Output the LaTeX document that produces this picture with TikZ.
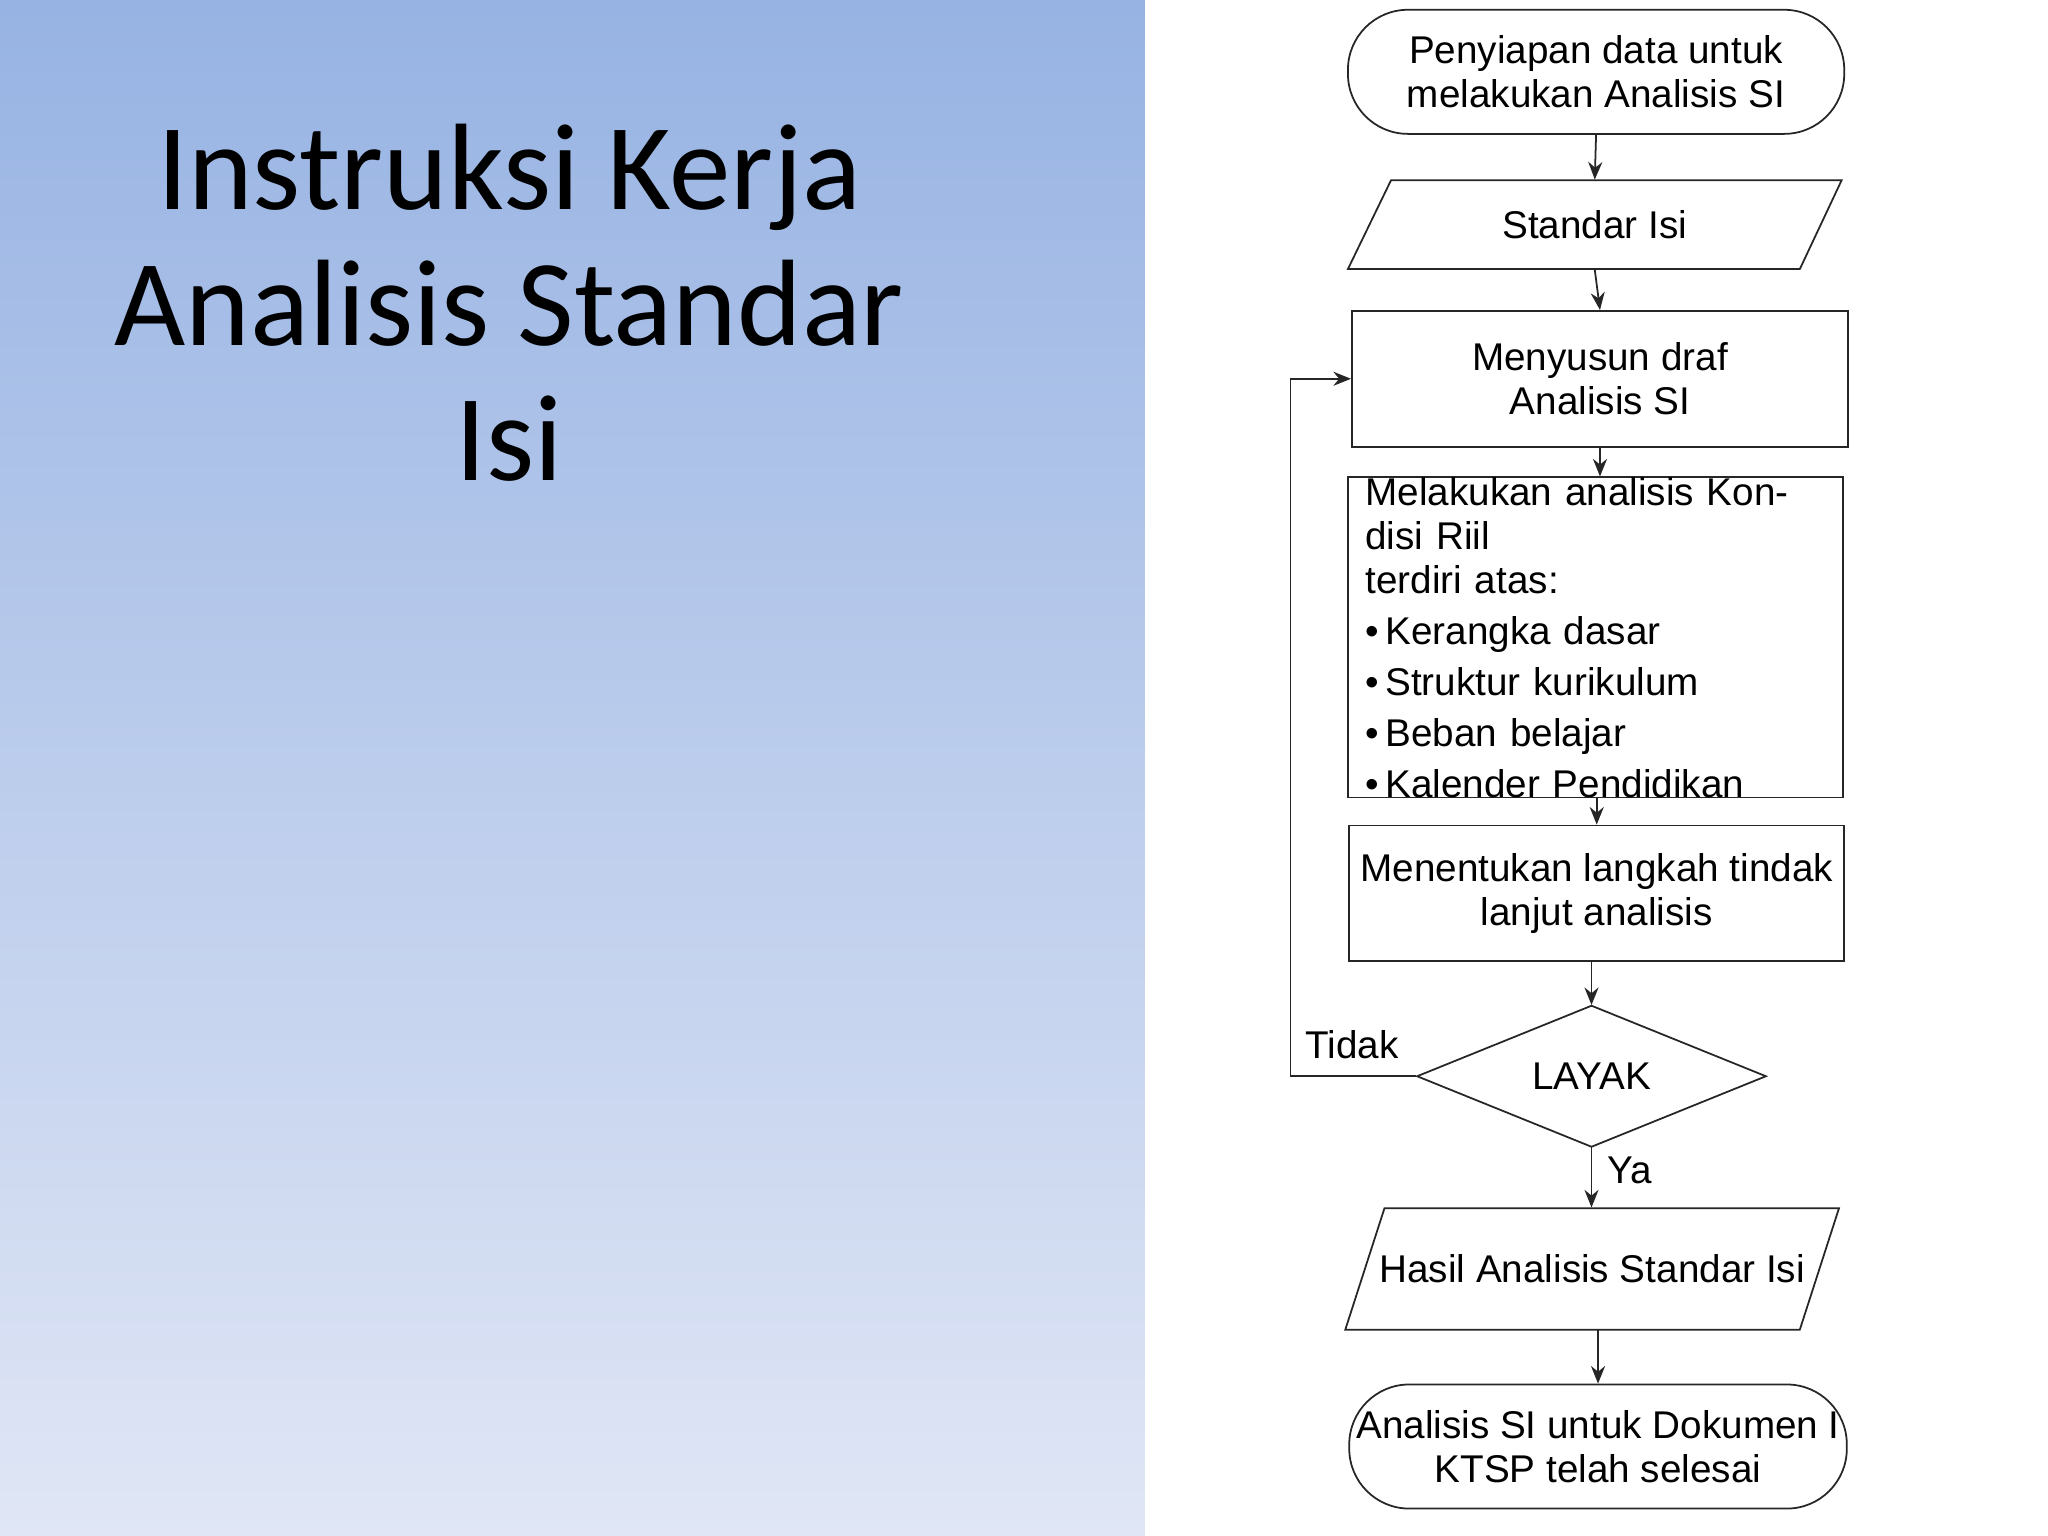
\documentclass[tikz,border=0pt]{standalone}
\usepackage{fontspec}
\setmainfont{Liberation Sans}
\newfontfamily\titlefont{Carlito}
\usetikzlibrary{arrows.meta}
\begin{document}
\begin{tikzpicture}[x=0.01306cm,y=-0.01306cm,
  box/.style={inner sep=0pt,font=\fontsize{11}{12.5}\selectfont,align=center},
  ln/.style={draw=black!85,line width=0.5pt},
  arr/.style={ln,-{Stealth[length=5pt,width=4pt]}}]
\useasboundingbox (0,0) rectangle (1568,1176);
\shade[top color={rgb,255:red,151;green,179;blue,227},bottom color={rgb,255:red,224;green,230;blue,245}] (0,0) rectangle (877,1176);
\fill[white] (877,0) rectangle (1568,1176);
\node[font=\titlefont\fontsize{35}{38.5}\selectfont,align=center] (title) at (390,232) {Instruksi Kerja\\Analisis Standar\\Isi};
% nodes
\node[box,ln,rounded corners=0.6cm,minimum width=4.963cm,minimum height=1.241cm] (n1) at (1222,55) {Penyiapan data untuk\\melakukan Analisis SI};
\node[box,minimum width=4.937cm,minimum height=0.888cm] (n2) at (1221,172) {Standar Isi};
\draw[ln] (1065,138) -- (1410,138) -- (1378,206) -- (1032,206) -- cycle;
\node[box,ln,minimum width=4.963cm,minimum height=1.358cm] (n3) at (1225,290) {Menyusun draf\\Analisis SI};
\node[box,ln,minimum width=4.950cm,minimum height=2.925cm,align=left,text width=4.6cm] (n4) at (1221.5,488) {Melakukan analisis Kondisi Riil\\terdiri atas:\\[2pt]
\textbullet\,Kerangka dasar\\[2pt]\textbullet\,Struktur kurikulum\\[2pt]\textbullet\,Beban belajar\\[2pt]\textbullet\,Kalender Pendidikan};
\node[box,ln,minimum width=4.950cm,minimum height=1.358cm] (n5) at (1222.5,684) {Menentukan langkah tindak\\lanjut analisis};
\node[box,minimum width=3.487cm,minimum height=1.410cm] (n6) at (1218.5,824) {LAYAK};
\draw[ln] (1085,824) -- (1218.5,770) -- (1352,824) -- (1218.5,878) -- cycle;
\node[box,minimum width=4.937cm,minimum height=1.215cm] (n7) at (1219,971.5) {Hasil Analisis Standar Isi};
\draw[ln] (1060,925) -- (1408,925) -- (1378,1018) -- (1030,1018) -- cycle;
\node[box,ln,rounded corners=0.6cm,minimum width=4.976cm,minimum height=1.241cm] (n8) at (1223.5,1107.5) {Analisis SI untuk Dokumen I\\KTSP telah selesai};
% connectors
\draw[arr] (n1.south) -- (n2.north);
\draw[arr] (n2.south) -- (n3.north);
\draw[arr] (n3.south) -- (n4.north-|n3.south);
\draw[arr] (n4.south-|n5.north) -- (n5.north);
\draw[arr] (n5.south-|n6.north) -- (n6.north);
\draw[arr] (n6.south) -- (n6.south|-n7.north);
\draw[arr] (n7.south-|n8.north) -- (n8.north);
\coordinate (c1) at (988,0);
\draw[arr] (n6.west) -- (n6.west-|c1) -- (n3.west-|c1) -- (n3.west);
\node[box] (tidak) at (1035,800) {Tidak};
\node[box] (ya) at (1248,896) {Ya};
\end{tikzpicture}
\end{document}
